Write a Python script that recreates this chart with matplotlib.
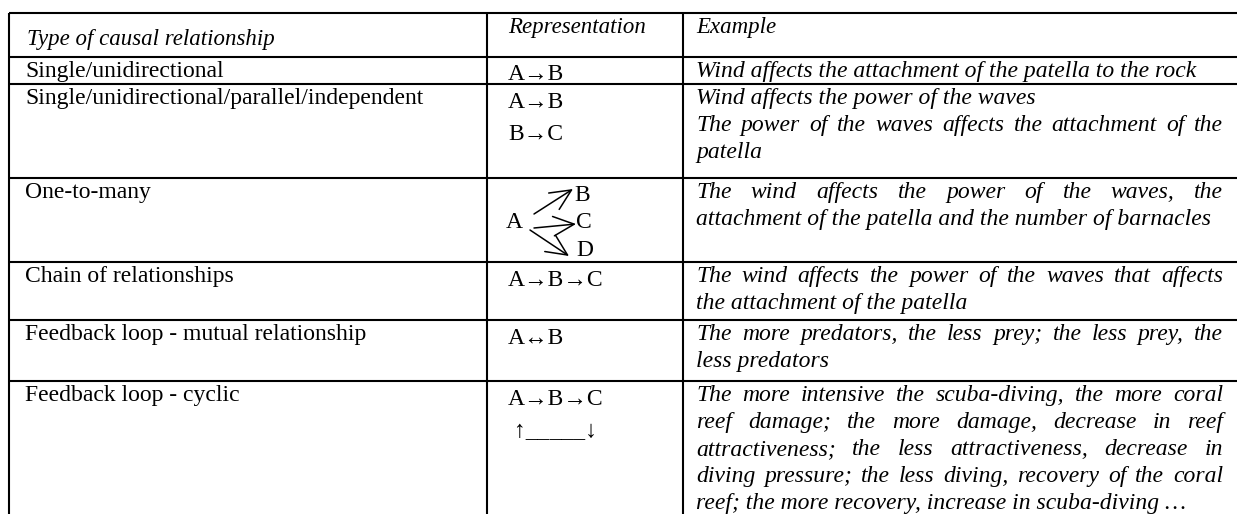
import matplotlib
matplotlib.use("Agg")
import matplotlib.pyplot as plt

# ---------------- data ----------------
headers = ["Type of causal relationship", "Representation", "Example"]
types = [
    "Single/unidirectional",
    "Single/unidirectional/parallel/independent",
    "One-to-many",
    "Chain of relationships",
    "Feedback loop - mutual relationship",
    "Feedback loop - cyclic",
]
representations = [
    ["A→B"],
    ["A→B", "B→C"],
    None,                       # drawn as a one-to-many diagram
    ["A→B→C"],
    ["A↔B"],
    ["A→B→C", " ↑_____↓"],
]
diagram_source = "A"
diagram_targets = ["B", "C", "D"]
examples = [
    [["Wind affects the attachment of the patella to the rock"]],
    [["Wind affects the power of the waves"],
     ["The power of the waves affects the attachment of the", "patella"]],
    [["The wind affects the power of the waves, the",
      "attachment of the patella and the number of barnacles"]],
    [["The wind affects the power of the waves that affects",
      "the attachment of the patella"]],
    [["The more predators, the less prey; the less prey, the",
      "less predators"]],
    [["The more intensive the scuba-diving, the more coral",
      "reef damage; the more damage, decrease in reef",
      "attractiveness; the less attractiveness, decrease in",
      "diving pressure; the less diving, recovery of the coral",
      "reef; the more recovery, increase in scuba-diving …"]],
]

# ---------------- layout ----------------
W, H = 1237, 514
row_lines = [12.5, 56.5, 84, 178, 262, 320, 381]
col_lines = [9, 487, 683]
col_text_x = [25, 508, 696]
just_right = 1223
FS = 17
FS_HEAD = 16.5
LINE = 27
FONT = "Liberation Serif"

fig = plt.figure(figsize=(W / 100, H / 100), dpi=100)
ax = fig.add_axes([0, 0, 1, 1])
ax.set_xlim(0, W)
ax.set_ylim(H, 0)
ax.axis("off")
renderer = fig.canvas.get_renderer()

lw = 1.5
for y in row_lines:
    ax.plot([col_lines[0], W], [y, y], color="black", lw=lw, solid_capstyle="butt")
for x in col_lines:
    ax.plot([x, x], [row_lines[0], H], color="black", lw=lw, solid_capstyle="butt")

def put(x, y, s, style="normal", size=FS, **kw):
    return ax.text(x, y, s, fontsize=size, family=FONT, style=style,
                   va="baseline", ha="left", color="black", **kw)

def justified(line, x0, x1, y, style):
    words = line.split(" ")
    ts = [put(0, y, w, style=style) for w in words]
    widths = [t.get_window_extent(renderer=renderer).width for t in ts]
    gap = (x1 - x0 - sum(widths)) / max(len(words) - 1, 1)
    x = x0
    for t, w in zip(ts, widths):
        t.set_x(x)
        x += w + gap

# header
put(col_text_x[0] + 2, row_lines[0] + 32, headers[0], style="italic", size=FS_HEAD)
put(col_text_x[1], row_lines[0] + 21, headers[1], style="italic", size=FS_HEAD)
put(col_text_x[2], row_lines[0] + 21, headers[2], style="italic", size=FS_HEAD)

for i in range(len(types)):
    top = row_lines[i + 1]
    put(col_text_x[0], top + 20, types[i])
    rep = representations[i]
    if rep is not None:
        for k, s in enumerate(rep):
            put(col_text_x[1], top + 24 + k * 32, s)
    else:
        put(506, top + 50, diagram_source)
        tpos = [(574, top + 23), (576, top + 50), (576, top + 78)]
        for lab, (tx, ty) in zip(diagram_targets, tpos):
            put(tx, ty, lab)
        arrows = [((534, top + 36), (573, top + 11)),
                  ((534, top + 50), (576, top + 46)),
                  ((530, top + 52), (569, top + 78))]
        for (x0, y0), (x1, y1) in arrows:
            ax.annotate("", xy=(x1, y1), xytext=(x0, y0),
                        arrowprops=dict(arrowstyle="->,head_length=0.75,head_width=0.35",
                                        lw=1.1, color="black", mutation_scale=20,
                                        shrinkA=0, shrinkB=0))
    k = 0
    for para in examples[i]:
        for j, line in enumerate(para):
            y = top + 20 + k * LINE
            if j < len(para) - 1:
                justified(line, col_text_x[2], just_right, y, "italic")
            else:
                put(col_text_x[2], y, line, style="italic")
            k += 1

fig.savefig("out.png", dpi=100)
